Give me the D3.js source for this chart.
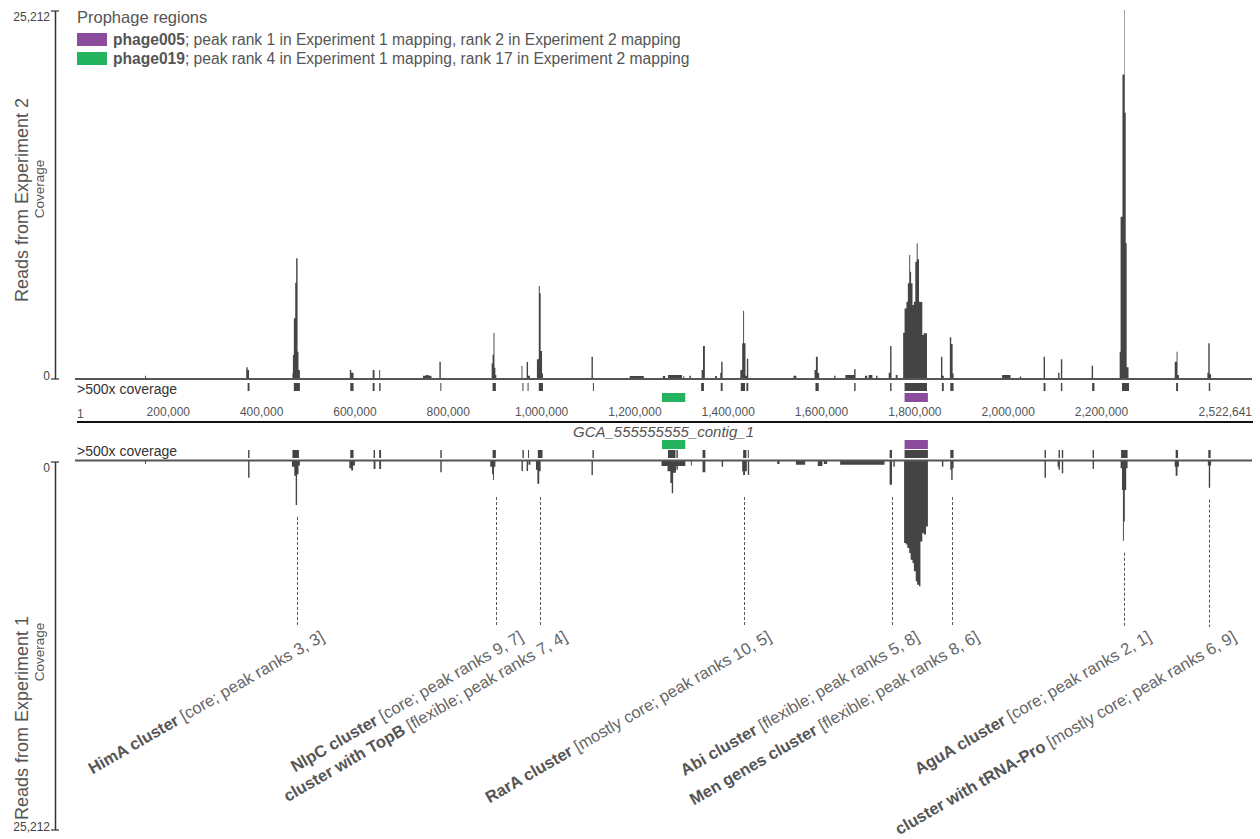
<!DOCTYPE html>
<html>
<head>
<meta charset="utf-8">
<script src="https://cdn.jsdelivr.net/npm/d3@7/dist/d3.min.js"></script>
<style>
  html, body { margin: 0; padding: 0; background: #fff; }
  svg { display: block; font-family: Arial, "Liberation Sans", Helvetica, sans-serif; }
</style>
</head>
<body>
<svg id="chart" width="1260" height="839"></svg>
<script>
// ---------------- DATA ----------------
const genomeLength = 2522641;
const coverageMax = 25212;
const contigName = "GCA_555555555_contig_1";

const tickValues = [1, 200000, 400000, 600000, 800000, 1000000, 1200000, 1400000, 1600000, 1800000, 2000000, 2200000, 2522641];
const tickLabels = ["1", "200,000", "400,000", "600,000", "800,000", "1,000,000", "1,200,000", "1,400,000", "1,600,000", "1,800,000", "2,000,000", "2,200,000", "2,522,641"];

// Coverage bins, Experiment 2 (top panel): [start kb, end kb, coverage]
const exp2Coverage = [
  [150,152,150],
  [367,370,730],[370,373,550],
  [466,467,300],[467,469,1575],[469,472,4090],[472,474,6530],[474,477,8200],[477,479,1800],[479,482,550],
  [589,592,550],[592,597,360],
  [638,642,550],
  [652,654,550],
  [746,752,150],[752,758,200],[758,764,150],
  [781,784,1115],
  [893,895,1000],[895,897,1600],[897,899,3100],[899,901,700],[901,903,200],
  [957,959,820],
  [968,971,1100],[971,975,150],
  [990,994,1280],[994,996,6300],[996,998,5800],[998,1001,1850],[1001,1003,300],
  [1107,1110,1460],
  [1189,1219,140],
  [1260,1265,140],
  [1271,1301,200],
  [1304,1306,140],[1317,1320,150],
  [1343,1346,550],[1346,1350,2190],
  [1372,1376,140],
  [1383,1385,360],[1385,1388,1115],
  [1426,1430,550],[1430,1432,2375],[1432,1434,4610],[1434,1437,2375],[1437,1440,150],[1440,1443,1320],
  [1540,1546,150],
  [1585,1588,550],[1588,1592,1460],[1592,1595,350],
  [1627,1630,150],
  [1651,1670,200],[1670,1673,600],
  [1693,1698,150],[1701,1709,200],[1717,1720,150],
  [1744,1747,360],[1747,1750,2190],[1759,1763,200],
  [1775,1778,3100],[1778,1782,4770],[1782,1785,5230],[1785,1788,6490],[1788,1790,8425],[1790,1792,7280],
  [1792,1795,6490],[1795,1798,5000],[1798,1801,5230],[1801,1804,7970],[1804,1806,9230],[1806,1809,8130],
  [1809,1812,5230],[1812,1816,5200],[1816,1819,2945],[1819,1826,3060],
  [1856,1859,1460],[1859,1862,150],
  [1875,1878,2790],[1878,1881,2330],[1881,1883,300],
  [1987,2005,200],
  [2025,2028,100],
  [2076,2079,1460],
  [2107,2110,360],
  [2113,2116,1280],
  [2179,2182,845],
  [2239,2241,1800],[2241,2245,11050],[2245,2249,20800],[2249,2250,25212],[2250,2252,18170],[2252,2254,9230],[2254,2258,730],
  [2357,2361,1115],[2361,2363,1800],[2363,2366,200],
  [2427,2429,360],[2429,2432,2375],[2432,2435,250]
];

// Coverage bins, Experiment 1 (bottom panel): [start kb, end kb, coverage]
const exp1Coverage = [
  [150,152,200],
  [371,374,1140],
  [465,470,400],[470,473,1000],[473,476,3000],[476,479,900],[479,482,300],
  [588,592,500],[592,596,650],[596,600,300],
  [640,644,545],
  [652,656,545],
  [783,786,770],
  [890,894,400],[894,896,900],[896,898,1300],[898,901,400],
  [957,960,680],[968,971,680],[972,976,250],
  [988,991,600],[991,995,1550],[995,998,700],
  [1107,1110,950],
  [1257,1270,350],[1270,1276,700],[1276,1279,1500],[1279,1282,2200],[1282,1288,800],[1288,1289,350],[1289,1292,600],[1292,1308,350],
  [1320,1322,300],
  [1345,1351,770],
  [1386,1389,400],
  [1430,1432,700],[1432,1436,950],[1436,1440,700],[1442,1445,950],
  [1505,1510,200],
  [1545,1565,250],
  [1592,1602,350],[1605,1612,200],
  [1640,1735,250],
  [1746,1751,1630],[1754,1757,400],
  [1777,1781,5600],[1781,1784,5700],[1784,1788,5950],[1788,1791,6290],[1791,1795,6740],[1795,1798,6970],
  [1798,1802,7540],[1802,1805,8220],[1805,1809,8450],[1809,1812,8560],[1812,1816,5500],[1816,1819,4920],
  [1819,1824,5030],[1824,1828,4470],
  [1858,1861,400],
  [1876,1878,600],[1878,1881,1300],[1881,1883,500],
  [2078,2081,1140],
  [2106,2108,400],[2108,2111,600],
  [2115,2118,840],
  [2181,2184,545],
  [2241,2244,500],[2244,2246,1980],[2246,2248,5450],[2248,2250,4130],[2250,2253,1980],[2253,2256,500],
  [2357,2359,400],[2359,2363,1000],[2363,2366,400],
  [2428,2430,300],[2430,2433,1820],[2433,2435,300]
];

// Regions with >500x coverage: [start kb, end kb]
const exp2HighCoverage = [
  [370,374],[469,482],[590,597],[638,642],[652,655],[783,785],[895,902],[959,961],[970,972],[994,1003],[1110,1111],
  [1342,1348],[1384,1388],[1427,1436],[1439,1443],[1587,1594],[1670,1673],[1747,1750],[1778,1826],
  [1858,1862],[1876,1883],[2076,2080],[2113,2116],[2180,2185],[2244,2259],[2360,2364],[2430,2433]
];
const exp1HighCoverage = [
  [371,374],[466,480],[590,597],[640,643],[652,656],[783,786],[895,902],[959,962],[971,973],[992,1002],[1109,1112],
  [1271,1287],[1289,1292],[1345,1351],[1432,1439],[1442,1444],[1746,1751],[1778,1828],[1876,1883],
  [2078,2081],[2108,2111],[2115,2118],[2181,2184],[2242,2256],[2359,2364],[2429,2434]
];

// Prophage regions
const prophageNames = ["phage005", "phage019"];
const prophageDescriptions = [
  "; peak rank 1 in Experiment 1 mapping, rank 2 in Experiment 2 mapping",
  "; peak rank 4 in Experiment 1 mapping, rank 17 in Experiment 2 mapping"
];
const prophageRangesKb = [[1778, 1828], [1258, 1308]];

// Annotated clusters
const clusterNames = ["HimA cluster", "NlpC cluster", "cluster with TopB", "RarA cluster", "Abi cluster", "Men genes cluster", "AguA cluster", "cluster with tRNA-Pro"];
const clusterDetails = [" [core; peak ranks 3, 3]", " [core; peak ranks 9, 7]", " [flexible; peak ranks 7, 4]", " [mostly core; peak ranks 10, 5]", " [flexible; peak ranks 5, 8]", " [flexible; peak ranks 8, 6]", " [core; peak ranks 2, 1]", " [mostly core; peak ranks 6, 9]"];
const clusterPositionsKb = [476.5, 902.5, 997.4, 1433, 1750, 1879.5, 2248.6, 2430.8];

// ---------------- DRAWING ----------------
const svg = d3.select("#chart");
const barColor = "#444";
const prophageColors = ["#8c4c9e", "#24b35f"];

const x = d3.scaleLinear().domain([1, genomeLength]).range([75, 1252]);
const yTop = d3.scaleLinear().domain([0, coverageMax]).range([378, 10]);
const yBot = d3.scaleLinear().domain([0, coverageMax]).range([461, 830]);
const kb = v => v * 1000;

// Legend
svg.append("text").attr("x", 77).attr("y", 23).attr("font-size", 16.5).attr("fill", "#555").text("Prophage regions");
prophageNames.forEach((name, i) => {
  const yy = 33 + i * 19;
  svg.append("rect").attr("x", 77).attr("y", yy).attr("width", 30).attr("height", 13).attr("fill", prophageColors[i]);
  const t = svg.append("text").attr("x", 113).attr("y", yy + 12).attr("font-size", 15.6).attr("fill", "#555");
  t.append("tspan").attr("font-weight", "bold").text(name);
  t.append("tspan").text(prophageDescriptions[i]);
});

// Y axes
function yAxis(y0, y1, topLabel, bottomLabel) {
  const g = svg.append("g");
  g.append("line").attr("x1", 55.5).attr("x2", 55.5).attr("y1", y0).attr("y2", y1).attr("stroke", "#333").attr("stroke-width", 1.5);
  g.append("line").attr("x1", 51).attr("x2", 59).attr("y1", y0).attr("y2", y0).attr("stroke", "#333").attr("stroke-width", 1.2);
  g.append("line").attr("x1", 51).attr("x2", 59).attr("y1", y1).attr("y2", y1).attr("stroke", "#333").attr("stroke-width", 1.2);
  g.append("text").attr("x", 50).attr("y", y0 + 10).attr("text-anchor", "end").attr("font-size", 12).attr("fill", "#444").text(topLabel);
  g.append("text").attr("x", 50).attr("y", y1 + 1).attr("text-anchor", "end").attr("font-size", 12).attr("fill", "#444").text(bottomLabel);
}
yAxis(yTop(coverageMax) + 1, yTop(0) + 1, d3.format(",")(coverageMax), "0");
yAxis(yBot(0) + 1, yBot(coverageMax), "0", d3.format(",")(coverageMax));

function vTitle(xb, cy, size, txt) {
  svg.append("text").attr("transform", `translate(${xb},${cy}) rotate(-90)`).attr("text-anchor", "middle")
    .attr("font-size", size).attr("fill", "#555").text(txt);
}
vTitle(28, 200, 18, "Reads from Experiment 2");
vTitle(44, 189, 13.5, "Coverage");
vTitle(28, 718, 18, "Reads from Experiment 1");
vTitle(44, 652, 13.5, "Coverage");

// Coverage as single step paths (no seams between adjacent bins)
function coveragePath(bins, y) {
  const p = d3.path();
  bins.forEach(d => {
    const x0 = x(kb(d[0])), x1 = x(kb(d[1]));
    p.moveTo(x0, y(0)); p.lineTo(x0, y(d[2])); p.lineTo(x1, y(d[2])); p.lineTo(x1, y(0)); p.closePath();
  });
  return p.toString();
}
svg.append("path").attr("d", coveragePath(exp2Coverage, yTop)).attr("fill", barColor);
svg.append("path").attr("d", coveragePath(exp1Coverage, yBot)).attr("fill", barColor);

// Baselines
svg.append("line").attr("x1", x(1)).attr("x2", x(genomeLength)).attr("y1", 379).attr("y2", 379).attr("stroke", "#555").attr("stroke-width", 2);
svg.append("line").attr("x1", x(1)).attr("x2", x(genomeLength)).attr("y1", 460.5).attr("y2", 460.5).attr("stroke", "#555").attr("stroke-width", 2);

// >500x tracks
svg.append("text").attr("x", 77).attr("y", 394).attr("font-size", 14).attr("fill", "#333").text(">500x coverage");
svg.append("text").attr("x", 77).attr("y", 456).attr("font-size", 14).attr("fill", "#333").text(">500x coverage");
svg.append("g").selectAll("rect").data(exp2HighCoverage).join("rect")
  .attr("x", d => x(kb(d[0]))).attr("width", d => Math.max(1, x(kb(d[1])) - x(kb(d[0]))))
  .attr("y", 383).attr("height", 8).attr("fill", barColor);
svg.append("g").selectAll("rect").data(exp1HighCoverage).join("rect")
  .attr("x", d => x(kb(d[0]))).attr("width", d => Math.max(1, x(kb(d[1])) - x(kb(d[0]))))
  .attr("y", 450).attr("height", 8).attr("fill", barColor);

// Prophage boxes
prophageRangesKb.forEach((r, i) => {
  [393, 440].forEach(yy => {
    svg.append("rect").attr("x", x(kb(r[0]))).attr("y", yy).attr("width", x(kb(r[1])) - x(kb(r[0]))).attr("height", 9)
      .attr("fill", prophageColors[i]);
  });
});

// Genome axis
svg.append("line").attr("x1", x(1) + 2).attr("x2", x(genomeLength) + 1).attr("y1", 422).attr("y2", 422).attr("stroke", "#111").attr("stroke-width", 2);
svg.append("g").selectAll("text").data(tickValues).join("text")
  .attr("x", (d, i) => i === 0 ? x(d) + 2 : x(d))
  .attr("y", (d, i) => i === 0 ? 418 : 416)
  .attr("text-anchor", (d, i) => i === 0 ? "start" : (i === tickValues.length - 1 ? "end" : "middle"))
  .attr("font-size", 12).attr("fill", "#555")
  .text((d, i) => tickLabels[i]);
svg.append("text").attr("x", (x(1) + x(genomeLength)) / 2).attr("y", 437).attr("text-anchor", "middle")
  .attr("font-size", 15).attr("font-style", "italic").attr("fill", "#555").text(contigName);

// Cluster pointers and labels
clusterPositionsKb.forEach((p, i) => {
  const px = Math.round(x(kb(p))) + 0.5;
  const tip = d3.max(exp1Coverage.filter(d => d[1] >= p - 5 && d[0] <= p + 5), d => d[2]) || 0;
  const startY = Math.max(yBot(tip) + 12, yBot(0) + 36);
  svg.append("line").attr("x1", px).attr("x2", px).attr("y1", startY).attr("y2", 627)
    .attr("stroke", "#555").attr("stroke-width", 1).attr("stroke-dasharray", "3,2");
  const t = svg.append("text").attr("transform", `translate(${px + 28},640) rotate(-30)`).attr("text-anchor", "end")
    .attr("font-size", 16.5);
  t.append("tspan").attr("font-weight", "bold").attr("fill", "#555").text(clusterNames[i]);
  t.append("tspan").attr("fill", "#666").text(clusterDetails[i]);
});
</script>
</body>
</html>
